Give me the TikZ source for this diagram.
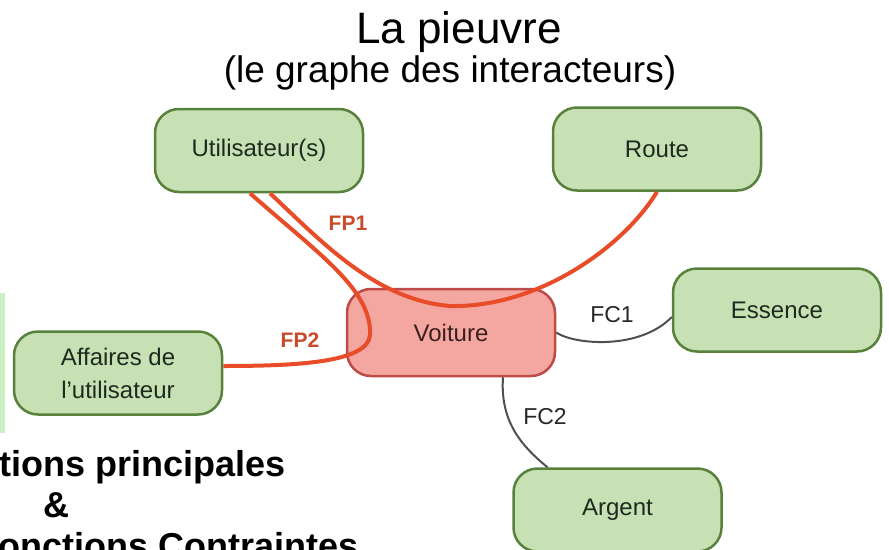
\documentclass[tikz,border=0pt]{standalone}
\usepackage{fontspec}
\setmainfont{Liberation Sans}
\usepackage{xcolor}
\definecolor{boxfill}{HTML}{C7E0B4}
\definecolor{boxline}{HTML}{58823C}
\definecolor{boxtext}{HTML}{1E2A1E}
\definecolor{carfill}{HTML}{F4A7A1}
\definecolor{carline}{HTML}{BE4B48}
\definecolor{cartext}{HTML}{3B1F1F}
\definecolor{fpred}{HTML}{E84C28}
\definecolor{fptext}{HTML}{C84A2A}
\definecolor{fcgray}{HTML}{505050}
\definecolor{strip}{HTML}{C8F0C3}

\begin{document}
\begin{tikzpicture}
  [x=1pt,y=-1pt,every node/.style={inner sep=0pt},
   actor/.style={draw=boxline,fill=boxfill,line width=2.5pt,rounded corners=24pt,
     minimum width=208pt,minimum height=83pt,align=center,text=boxtext,
     font=\fontsize{24}{33}\selectfont},
   car/.style={actor,draw=carline,fill=carfill,text=cartext,minimum height=87pt},
   fpline/.style={draw=fpred,line width=4pt},
   fcline/.style={draw=fcgray,line width=2pt},
   fplabel/.style={text=fptext,font=\bfseries\fontsize{21}{24}\selectfont},
   fclabel/.style={text=black!85,font=\fontsize{23}{26}\selectfont}]
  \useasboundingbox (0,0) rectangle (889,549);
  \clip (0,0) rectangle (889,549);
  \fill[strip] (0,293) rectangle (5,433);

  % titles
  \node (titre) at (459,43) [anchor=base,font=\fontsize{44}{50}\selectfont] {La pieuvre};
  \node (soustitre) at (450,82) [anchor=base,font=\fontsize{37}{40}\selectfont] {(le graphe des interacteurs)};

  % interactors
  \node (util)    at (259,150.5) [actor] {Utilisateur(s)};
  \node (route)   at (657,149)   [actor] {Route};
  \node (essence) at (777,310)   [actor] {Essence};
  \node (voiture) at (451,332.5) [car]   {Voiture};
  \node (aff)     at (118,373)   [actor] {Affaires de\\l’utilisateur};
  \node (argent)  at (617.5,510) [actor] {Argent};

  % functions
  \draw[fpline] ([xshift=11pt]util.south) .. controls (320,240) and (375,300) .. (450,306)
    .. controls (540,308) and (625,245) .. (route.south);
  \draw[fpline] ([xshift=-9pt]util.south) .. controls (320,255) and (372,290) .. (370,335)
    .. controls (368,362) and (300,366) .. ([yshift=7pt]aff.east);
  \draw[fcline] (voiture.east) .. controls (575,345) and (640,350) .. ([yshift=-7pt]essence.west);
  \draw[fcline] ([xshift=52pt]voiture.south) .. controls (500,420) and (520,445) .. ([xshift=-70pt]argent.north);

  \node (fp1) at (348,223) [fplabel] {FP1};
  \node (fp2) at (300,340) [fplabel] {FP2};
  \node (fc1) at (612,315) [fclabel] {FC1};
  \node (fc2) at (545,417) [fclabel] {FC2};

  % caption cut by the left edge
  \node (ligne1) at (-1,476) [anchor=base west,font=\bfseries\fontsize{36}{40}\selectfont] {tions principales};
  \node (ligne2) at (56,517) [anchor=base,font=\bfseries\fontsize{36}{40}\selectfont] {\&};
  \node (ligne3) at (-2,558) [anchor=base west,font=\bfseries\fontsize{36}{40}\selectfont] {onctions Contraintes};
\end{tikzpicture}
\end{document}
